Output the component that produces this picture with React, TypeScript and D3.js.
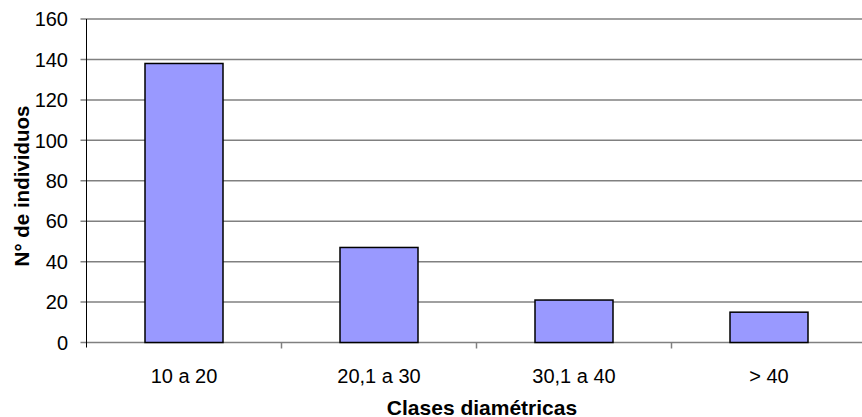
import { useEffect, useRef } from "react";
import * as d3 from "d3";

const categories = ["10 a 20", "20,1 a 30", "30,1 a 40", "> 40"];
const counts = [138, 47, 21, 15];
const yTicks = [0, 20, 40, 60, 80, 100, 120, 140, 160];

const xTitle = "Clases diamétricas";
const yTitle = "N° de individuos";

const App = () => {
	const svgRef = useRef<SVGSVGElement>(null);

	useEffect(() => {
		if (!svgRef.current) {
			return;
		}

		const width = 862;
		const plot = { left: 86.5, right: 866.5, top: 19, bottom: 342.5 };
		const font = "'Liberation Sans', Arial, sans-serif";

		const svg = d3.select(svgRef.current);
		svg.selectAll("*").remove();

		const xScale = d3.scaleBand().domain(categories).range([plot.left, plot.right]).padding(0);
		const yScale = d3.scaleLinear().domain([0, 160]).range([plot.bottom, plot.top]);

		const barWidth = xScale.bandwidth() * 0.4;

		// gridlines
		svg
			.append("g")
			.selectAll("line")
			.data(yTicks)
			.join("line")
			.attr("x1", plot.left - 6)
			.attr("x2", width)
			.attr("y1", (d) => yScale(d))
			.attr("y2", (d) => yScale(d))
			.attr("stroke", "#808080")
			.attr("stroke-width", 1.5);

		// y tick labels
		svg
			.append("g")
			.selectAll("text")
			.data(yTicks)
			.join("text")
			.attr("x", 68)
			.attr("y", (d) => yScale(d))
			.attr("dy", "0.36em")
			.attr("text-anchor", "end")
			.attr("font-family", font)
			.attr("font-size", 20)
			.attr("fill", "#000")
			.text((d) => d);

		// bars
		svg
			.append("g")
			.selectAll("rect")
			.data(counts)
			.join("rect")
			.attr("x", (_, i) => (xScale(categories[i]) ?? 0) + (xScale.bandwidth() - barWidth) / 2)
			.attr("y", (d) => yScale(d))
			.attr("width", barWidth)
			.attr("height", (d) => plot.bottom - yScale(d))
			.attr("fill", "#9999FF")
			.attr("stroke", "#000")
			.attr("stroke-width", 1.5);

		// y axis line
		svg
			.append("line")
			.attr("x1", plot.left)
			.attr("x2", plot.left)
			.attr("y1", plot.top)
			.attr("y2", plot.bottom + 5)
			.attr("stroke", "#000")
			.attr("stroke-width", 1);

		// x ticks at category boundaries
		const boundaries = categories.map((c) => xScale(c) ?? 0);
		svg
			.append("g")
			.selectAll("line")
			.data(boundaries.slice(1))
			.join("line")
			.attr("x1", (d) => d)
			.attr("x2", (d) => d)
			.attr("y1", plot.bottom)
			.attr("y2", plot.bottom + 6)
			.attr("stroke", "#808080")
			.attr("stroke-width", 1.5);

		// x labels
		svg
			.append("g")
			.selectAll("text")
			.data(categories)
			.join("text")
			.attr("x", (d) => (xScale(d) ?? 0) + xScale.bandwidth() / 2)
			.attr("y", 382.5)
			.attr("text-anchor", "middle")
			.attr("font-family", font)
			.attr("font-size", 20)
			.attr("fill", "#000")
			.text((d) => d);

		svg
			.append("text")
			.attr("x", 482)
			.attr("y", 414.5)
			.attr("text-anchor", "middle")
			.attr("font-family", font)
			.attr("font-size", 21)
			.attr("font-weight", "bold")
			.attr("fill", "#000")
			.text(xTitle);

		svg
			.append("text")
			.attr("transform", `translate(29,186) rotate(-90)`)
			.attr("text-anchor", "middle")
			.attr("font-family", font)
			.attr("font-size", 20.5)
			.attr("font-weight", "bold")
			.attr("fill", "#000")
			.text(yTitle);
	}, []);

	return (
		<svg
			ref={svgRef}
			width={862}
			height={417}
			style={{ position: "absolute", left: 0, top: 0, background: "#fff" }}
		/>
	);
};

export default App;
